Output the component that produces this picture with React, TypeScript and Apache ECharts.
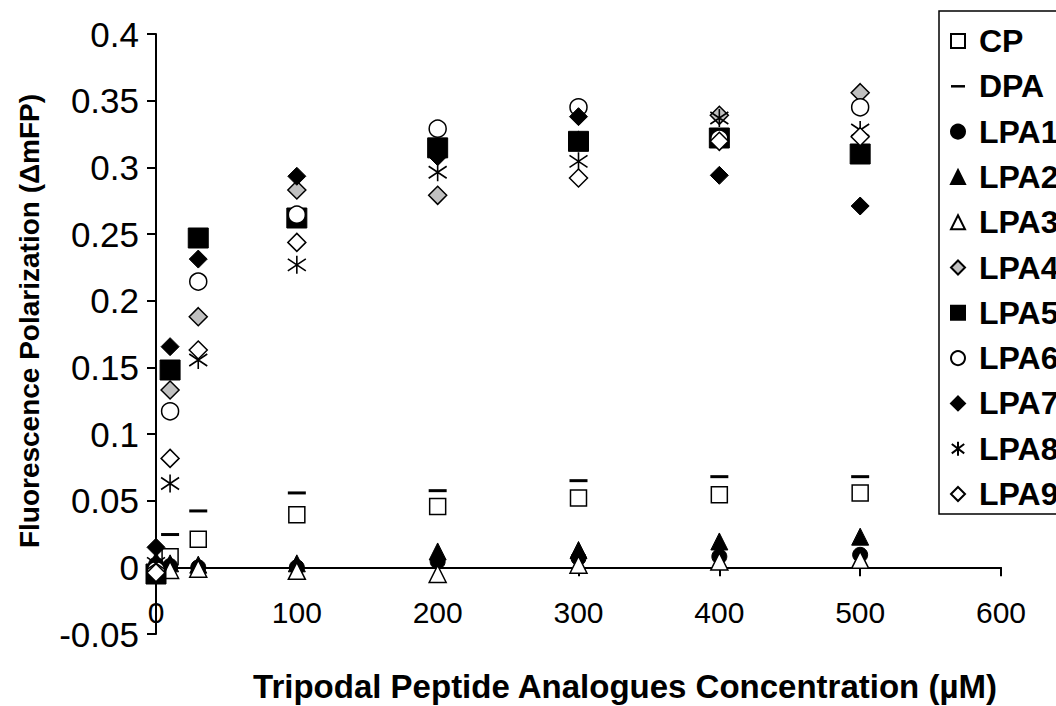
import React, { useEffect, useRef } from "react";
import * as echarts from "echarts";

const concentrations = [0, 10, 30, 100, 200, 300, 400, 500];
const seriesNames = ["CP", "DPA", "LPA1", "LPA2", "LPA3", "LPA4", "LPA5", "LPA6", "LPA7", "LPA8", "LPA9"];

const cp = [-0.006, 0.008, 0.021, 0.0395, 0.0457, 0.052, 0.0545, 0.0558];
const dpa = [-0.002, 0.0246, 0.0423, 0.0558, 0.0575, 0.065, 0.068, 0.068];
const lpa1 = [0.002, 0.001, 0.0, 0.0, 0.0044, 0.007, 0.0081, 0.0094];
const lpa2 = [0.005, 0.003, 0.002, 0.003, 0.0119, 0.013, 0.0194, 0.023];
const lpa3 = [-0.003, -0.002, -0.001, -0.0026, -0.005, 0.002, 0.0044, 0.0056];
const lpa4 = [-0.002, 0.133, 0.188, 0.283, 0.279, 0.32, 0.339, 0.356];
const lpa5 = [-0.005, 0.148, 0.247, 0.262, 0.3146, 0.3195, 0.322, 0.31];
const lpa6 = [-0.002, 0.117, 0.2143, 0.2645, 0.329, 0.345, 0.3215, 0.345];
const lpa7 = [0.015, 0.1655, 0.2312, 0.2933, 0.308, 0.338, 0.294, 0.271];
const lpa8 = [0.003, 0.0629, 0.1555, 0.2269, 0.2963, 0.3045, 0.337, 0.328];
const lpa9 = [-0.004, 0.0817, 0.163, 0.2437, null, 0.292, 0.3195, 0.323];

const yTicks = { min: -0.05, max: 0.4, interval: 0.05 };
const xTicks = { min: 0, max: 600, interval: 100 };

const xTitle = "Tripodal Peptide Analogues Concentration (µM)";
const yTitle = "Fluorescence Polarization (\u0394mFP)";

const FONT = '"Liberation Sans", Arial, Helvetica, sans-serif';
const ASTERISK = "path://M9 0 L9 18 M1 3 L17 15 M1 15 L17 3";
const DASH_ICON = "path://M0 0 L14 0 L14 2.5 L0 2.5 Z";

type Style = { symbol: string; size: number | number[]; fill: string; border: number };

const styles: Record<string, Style> = {
  CP: { symbol: "rect", size: 16, fill: "#ffffff", border: 1.5 },
  DPA: { symbol: "rect", size: [18, 3], fill: "#000000", border: 0 },
  LPA1: { symbol: "circle", size: 15, fill: "#000000", border: 1 },
  LPA2: { symbol: "triangle", size: 17, fill: "#000000", border: 1 },
  LPA3: { symbol: "triangle", size: 17, fill: "#ffffff", border: 1.5 },
  LPA4: { symbol: "diamond", size: 18, fill: "#c0c0c0", border: 1.5 },
  LPA5: { symbol: "rect", size: 20, fill: "#000000", border: 1 },
  LPA6: { symbol: "circle", size: 17, fill: "#ffffff", border: 1.5 },
  LPA7: { symbol: "diamond", size: 18, fill: "#000000", border: 1 },
  LPA8: { symbol: ASTERISK, size: 18, fill: "#000000", border: 1.6 },
  LPA9: { symbol: "diamond", size: 18, fill: "#ffffff", border: 1.5 },
};

const values: Record<string, (number | null)[]> = {
  CP: cp, DPA: dpa, LPA1: lpa1, LPA2: lpa2, LPA3: lpa3, LPA4: lpa4,
  LPA5: lpa5, LPA6: lpa6, LPA7: lpa7, LPA8: lpa8, LPA9: lpa9,
};

export default function App() {
  const ref = useRef<HTMLDivElement>(null);
  useEffect(() => {
    if (!ref.current) return;
    const chart = echarts.init(ref.current, undefined, { renderer: "svg" });
    const series = seriesNames.map((name) => {
      const s = styles[name];
      return {
        type: "scatter",
        name,
        data: concentrations
          .map((x, i) => [x, values[name][i]])
          .filter((p) => p[1] !== null),
        symbol: s.symbol,
        symbolSize: s.size,
        itemStyle: { color: s.fill, borderColor: "#000000", borderWidth: s.border, opacity: 1 },
        emphasis: { disabled: true },
      };
    });
    chart.setOption({
      animation: false,
      backgroundColor: "#ffffff",
      textStyle: { fontFamily: FONT },
      grid: { left: 156, top: 34, width: 845, height: 600, containLabel: false },
      xAxis: {
        type: "value",
        min: xTicks.min,
        max: xTicks.max,
        interval: xTicks.interval,
        axisLine: { onZero: true, lineStyle: { color: "#000", width: 2 } },
        axisTick: { show: true, length: 9, inside: false, lineStyle: { color: "#000", width: 2 } },
        axisLabel: { color: "#000", fontSize: 30, fontFamily: FONT, margin: -37 },
        splitLine: { show: false },
      },
      yAxis: {
        type: "value",
        min: yTicks.min,
        max: yTicks.max,
        interval: yTicks.interval,
        axisLine: { show: true, lineStyle: { color: "#000", width: 2 } },
        axisTick: { show: true, length: 9, lineStyle: { color: "#000", width: 2 } },
        axisLabel: { color: "#000", fontSize: 35, fontFamily: FONT, margin: 17 },
        splitLine: { show: false },
      },
      legend: {
        orient: "vertical",
        left: 939,
        top: 11,
        padding: [14, 60, 4, 11],
        borderColor: "#000",
        borderWidth: 1.5,
        itemWidth: 14,
        itemHeight: 14,
        itemGap: 13.3,
        selectedMode: false,
        textStyle: { color: "#000", fontSize: 32, fontWeight: "bold", fontFamily: FONT, lineHeight: 30, padding: [0, 0, 0, 9] },
        data: seriesNames.map((name) =>
          name === "DPA" ? { name, icon: DASH_ICON } : { name }
        ),
      },
      graphic: [
        {
          type: "text",
          x: 625,
          y: 686,
          style: { text: xTitle, fontSize: 33, fontWeight: "bold", fontFamily: FONT, fill: "#000", align: "center", verticalAlign: "middle" },
        },
        {
          type: "text",
          x: 29,
          y: 321,
          rotation: Math.PI / 2,
          style: { text: yTitle, fontSize: 28, fontWeight: "bold", fontFamily: FONT, fill: "#000", align: "center", verticalAlign: "middle" },
        },
      ],
      series,
    });
    return () => chart.dispose();
  }, []);
  return <div ref={ref} style={{ position: "fixed", left: 0, top: 0, width: 1056, height: 706 }} />;
}
